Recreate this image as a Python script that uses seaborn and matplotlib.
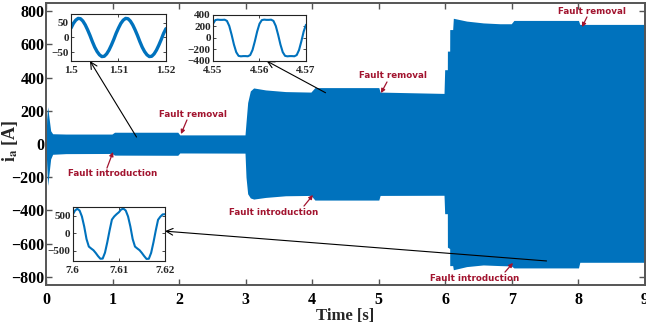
import numpy as np
import matplotlib
matplotlib.use('Agg')
import matplotlib.pyplot as plt
import seaborn as sns

# envelope of the phase current i_a
env_t = [0.0, 0.010, 0.025, 0.045, 0.070, 0.10, 0.30, 0.99, 1.03, 1.98, 2.01, 2.99,
         3.005, 3.03, 3.07, 3.12, 3.30, 3.60, 3.98, 4.04, 5.00, 5.02, 5.98, 5.99,
         6.03, 6.031, 6.065, 6.066, 6.11, 6.12, 6.32, 6.57, 6.82, 6.99, 7.03, 8.00,
         8.02, 9.00]
env_hi = [0, 150, 225, 160, 80, 62, 60, 60, 71, 71, 55, 55,
          130, 250, 320, 338, 326, 316, 313, 340, 340, 313, 305, 448,
          448, 560, 560, 690, 690, 758, 741, 730, 725, 725, 745, 745,
          721, 721]
env_lo = [0, -120, -250, -180, -90, -62, -58, -57, -67, -68, -54, -55,
          -200, -300, -325, -332, -322, -312, -310, -338, -338, -310, -309, -420,
          -420, -622, -630, -733, -733, -758, -739, -729, -733, -735, -747, -747,
          -713, -713]

# zoomed windows (samples every 0.5 ms)
ins1_win = (1.50, 1.52)
ins1_ia = [32, 48, 59, 65, 64, 56, 43, 26, 7, -14, -33, -48, -59, -65, -64, -56, -43, -26, -7, 14,
           32, 48, 59, 65, 64, 56, 43, 26, 7, -14, -33, -48, -59, -65, -64, -56, -43, -26, -7, 14, 30]
ins2_win = (4.55, 4.57)
ins2_ia = [247, 311, 319, 315, 315, 318, 297, 209, 58, -113, -247, -311, -319, -315, -315, -318, -297, -209, -58, 113,
           247, 311, 319, 315, 315, 318, 297, 209, 58, -113, -247, -311, -319, -315, -315, -318, -297, -209, -58, 113, 230]
ins3_win = (7.60, 7.62)
ins3_ia = [530, 650, 700, 650, 480, 190, -170, -385, -440, -490, -570, -660, -735, -730, -560, -260, 80, 390, 480, 545,
           600, 680, 705, 650, 480, 190, -170, -385, -440, -490, -570, -660, -740, -735, -565, -265, 75, 385, 475, 540, 545]

blue = '#0072BD'
red = '#A2142F'

sns.set_theme(style='ticks')
plt.rcParams['font.family'] = ['Liberation Serif', 'DejaVu Serif']
plt.rcParams['font.weight'] = 'bold'
plt.rcParams['mathtext.fontset'] = 'stix'

fig = plt.figure(figsize=(6.46, 3.27), dpi=100)
ax = fig.add_axes([0.0712, 0.1284, 0.9273, 0.8624])
ax.fill_between(env_t, env_lo, env_hi, color=blue, linewidth=0)
ax.set_xlim(0, 9)
ax.set_ylim(-850, 850)
ax.set_xticks(range(10))
ax.set_yticks(range(-800, 801, 200))
ax.tick_params(direction='in', top=True, right=True, length=4, width=1,
               color='#555555', labelcolor='black', labelsize=11.5)
ax.tick_params(axis='y', pad=1)
ax.tick_params(axis='x', pad=5)
for s in ax.spines.values():
    s.set_color('#555555')
    s.set_linewidth(1.4)
ax.set_xlabel('Time [s]', fontsize=12, fontweight='bold', labelpad=0)
ax.set_ylabel(r'$\mathbf{i}_\mathbf{a}$ [A]', fontsize=13, fontweight='bold')
ax.yaxis.set_label_coords(-0.044, 0.51)

# fault markers
notes = [
    ('Fault introduction', (1.007, -175), (0.916, -145), (1.007, -48)),
    ('Fault removal', (2.209, 175), (2.118, 145), (2.028, 60)),
    ('Fault introduction', (3.425, -410), (3.876, -374), (4.011, -307)),
    ('Fault removal', (5.213, 416), (5.123, 374), (5.033, 307)),
    ('Fault introduction', (6.445, -808), (6.896, -772), (7.016, -717)),
    ('Fault removal', (8.203, 796), (8.128, 766), (8.053, 705)),
]
for txt, pos, tail, tip in notes:
    ax.text(pos[0], pos[1], txt, color=red, fontsize=6.3, fontweight='bold',
            family='DejaVu Sans', ha='center', va='center')
    ax.annotate('', xy=tip, xytext=tail,
                arrowprops=dict(arrowstyle='-|>', color=red, lw=0.9,
                                mutation_scale=6, shrinkA=0, shrinkB=0))


def zoom_box(rect, win, vals, ylim, yticks, xlabels, lw):
    ia = fig.add_axes(rect)
    t = np.linspace(win[0], win[1], len(vals))
    sns.lineplot(x=t, y=vals, ax=ia, color=blue, linewidth=lw)
    ia.set_xlim(win)
    ia.set_ylim(ylim)
    ia.set_xticks(np.linspace(win[0], win[1], 3))
    ia.set_xticklabels(xlabels)
    ia.set_yticks(yticks)
    ia.tick_params(direction='in', top=True, right=True, length=2, width=0.6,
                   labelsize=8)
    ia.tick_params(axis='y', pad=1.5)
    ia.tick_params(axis='x', pad=3.5)
    for s in ia.spines.values():
        s.set_color('#222222')
        s.set_linewidth(0.8)
    return ia


in1 = zoom_box([0.1099, 0.8135, 0.147, 0.1437], ins1_win, ins1_ia, (-80, 80),
               [-50, 0, 50], ['1.5', '1.51', '1.52'], 2.4)
in2 = zoom_box([0.3297, 0.8135, 0.144, 0.1407], ins2_win, ins2_ia, (-400, 400),
               [-400, -200, 0, 200, 400], ['4.55', '4.56', '4.57'], 1.5)
in3 = zoom_box([0.1125, 0.2018, 0.1429, 0.166], ins3_win, ins3_ia, (-800, 760),
               [-500, 0, 500], ['7.6', '7.61', '7.62'], 1.5)

# pointers from the main trace to the zoomed windows
for box, head, tail in [(in1, (0.2, 0.0), (1.36, 42)),
                        (in2, (0.577, 0.0), (4.2, 309)),
                        (in3, (1.0, 0.55), (7.52, -705))]:
    ax.annotate('', xy=head, xycoords=box.transAxes, xytext=tail, textcoords='data',
                arrowprops=dict(arrowstyle='->', color='black', lw=0.8,
                                shrinkA=0, shrinkB=0))

plt.savefig('out.png', dpi=100)
